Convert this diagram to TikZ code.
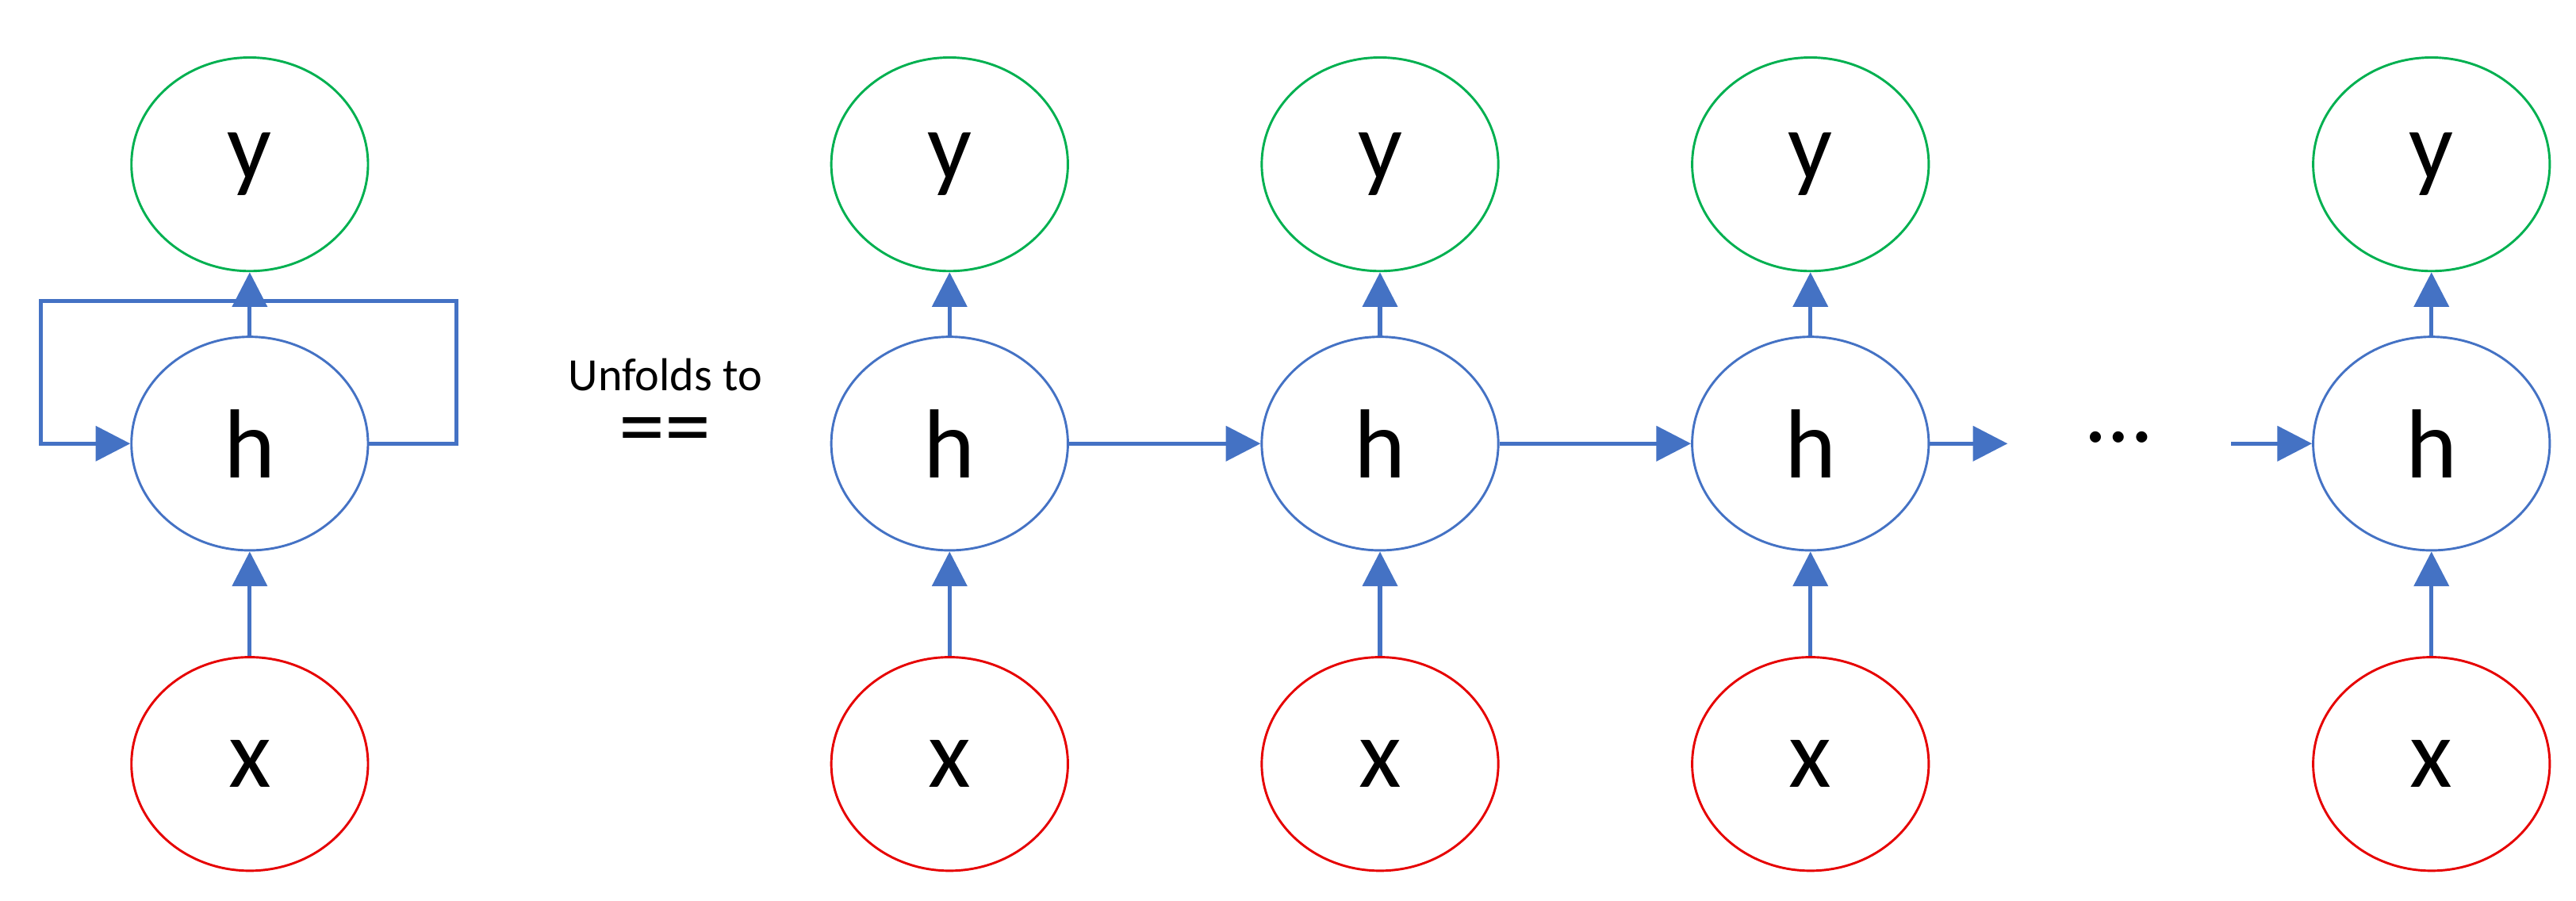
\documentclass[tikz,border=0pt]{standalone}
\usepackage{fontspec}
\setmainfont{Carlito}
\usetikzlibrary{arrows.meta,positioning,shapes.geometric}
\definecolor{ygreen}{RGB}{0,176,80}
\definecolor{hblue}{RGB}{68,114,196}
\definecolor{xred}{RGB}{230,0,0}
\tikzset{
  cell/.style={ellipse,draw,minimum width=1.44cm,minimum height=1.30cm,font=\fontsize{17}{20}\selectfont},
  ynode/.style={cell,draw=ygreen},
  hnode/.style={cell,draw=hblue},
  xnode/.style={cell,draw=xred},
  link/.style={draw=hblue,line width=0.7pt,-{Triangle[length=6pt,width=6pt]}}
}
\begin{document}
\begin{tikzpicture}
\useasboundingbox (0,0) rectangle (15.68,5.48);
% folded
\node[ynode] (y0) at (1.52,4.48) {y};
\node[hnode] (h0) at (1.52,2.78) {h};
\node[xnode] (x0) at (1.52,0.83) {x};
\draw[link] (x0) -- (h0);
\draw[link] (h0) -- (y0);
\draw[link] (h0.east) -- (2.78,2.78) -- (2.78,3.65) -- (0.25,3.65) -- (0.25,2.78) -- (h0.west);
\node[font=\fontsize{8}{10}\selectfont] at (4.05,3.20) {Unfolds to};
\node[font=\fontsize{16}{18}\selectfont] at (4.05,2.82) {==};
% unfolded
\foreach \i/\xx in {1/5.78,2/8.40,3/11.02,4/14.80}{
  \node[ynode] (y\i) at (\xx,4.48) {y};
  \node[hnode] (h\i) at (\xx,2.78) {h};
  \node[xnode] (x\i) at (\xx,0.83) {x};
  \draw[link] (x\i) -- (h\i);
  \draw[link] (h\i) -- (y\i);
}
\draw[link] (h1) -- (h2);
\draw[link] (h2) -- (h3);
\coordinate (out3) at (12.22,2.78);
\coordinate (in4) at (13.58,2.78);
\draw[link] (h3) -- (out3);
\draw[link] (in4) -- (h4);
\node[font=\fontsize{16}{18}\selectfont] (dots) at (12.90,2.82) {\dots};
\end{tikzpicture}
\end{document}
